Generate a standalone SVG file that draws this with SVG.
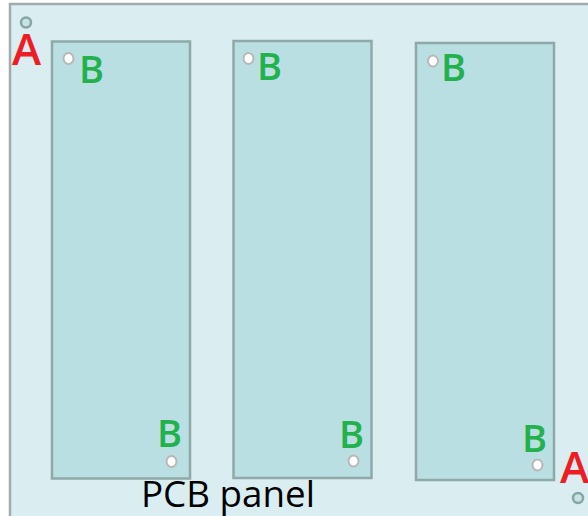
<svg xmlns="http://www.w3.org/2000/svg" width="588" height="516" viewBox="0 0 588 516">
<style>
.panel{fill:#daedf0;stroke:#a3abab;stroke-width:2.5}
.board{fill:#badfe2;stroke:#8fa9a8;stroke-width:2.5}
.holeA{fill:#c9e3e5;stroke:#86a6a6;stroke-width:2.5}
.holeB{fill:#ffffff;stroke:#b8b8b8;stroke-width:2}
.la{font-family:"Open Sans","Noto Sans",sans-serif;font-size:44px;font-weight:600;fill:#ee1c25}
.lb{font-family:"Open Sans","Noto Sans",sans-serif;font-size:38px;font-weight:600;fill:#22b14c}
.cap{font-family:"Open Sans","Noto Sans",sans-serif;font-size:36px;fill:#000000}
</style>
<rect width="588" height="516" fill="#ffffff"/>
<g id="panel">
<rect class="panel" x="10" y="4" width="620" height="600"/>
<circle class="holeA" cx="26" cy="22.5" r="5"/>
<circle class="holeA" cx="578" cy="498" r="5"/>
<text class="la" x="12" y="65">A</text>
<text class="la" x="560" y="483">A</text>
<text class="cap" x="141" y="507" textLength="174" lengthAdjust="spacingAndGlyphs">PCB panel</text>
</g>
<g id="board1">
<rect class="board" x="52" y="41.5" width="138" height="437"/>
<ellipse class="holeB" cx="68.5" cy="58.5" rx="5" ry="5.5"/>
<ellipse class="holeB" cx="171.5" cy="461.5" rx="5" ry="5.5"/>
<text class="lb" x="79" y="83">B</text>
<text class="lb" x="157" y="447">B</text>
</g>
<g id="board2">
<rect class="board" x="233.5" y="41" width="138" height="437"/>
<ellipse class="holeB" cx="248.5" cy="58.5" rx="5" ry="5.5"/>
<ellipse class="holeB" cx="353.5" cy="461" rx="5" ry="5.5"/>
<text class="lb" x="257" y="80">B</text>
<text class="lb" x="339" y="448">B</text>
</g>
<g id="board3">
<rect class="board" x="416" y="43" width="138" height="437"/>
<ellipse class="holeB" cx="433" cy="61" rx="5" ry="5.5"/>
<ellipse class="holeB" cx="537.5" cy="465" rx="5" ry="5.5"/>
<text class="lb" x="441" y="81">B</text>
<text class="lb" x="522" y="452">B</text>
</g>
<g id="connectors"/>
</svg>
